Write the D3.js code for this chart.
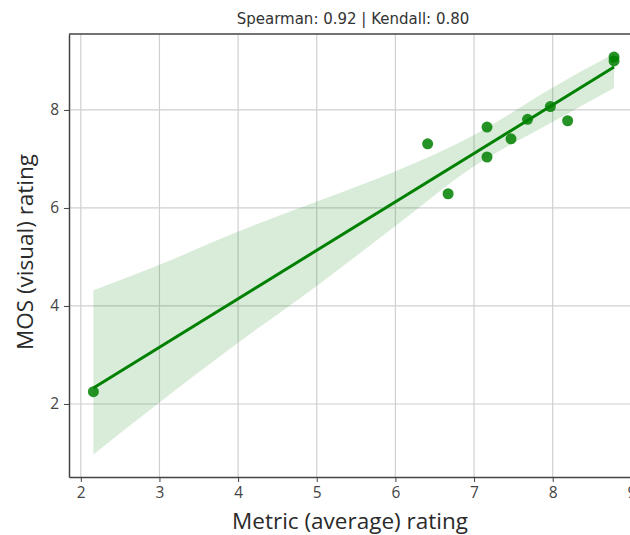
<!DOCTYPE html>
<html>
<head>
<meta charset="utf-8">
<script src="https://cdn.jsdelivr.net/npm/d3@7"></script>
<style>
  body { margin: 0; background: #fff; }
  svg { display: block; }
</style>
</head>
<body>
<svg width="630" height="535"></svg>
<script>
// scatter points: metric (average) rating vs MOS (visual) rating
var metricX = [2.16, 6.41, 6.67, 7.165, 7.165, 7.47, 7.68, 7.97, 8.19, 8.78, 8.78];
var mosY    = [2.25, 7.31, 6.29, 7.65, 7.04, 7.41, 7.81, 8.07, 7.78, 9.08, 9.00];

// confidence band
var bandX    = [2.16, 3.0, 4.0, 5.0, 6.0, 7.0, 7.97, 8.78];
var bandLow  = [0.97, 2.03, 3.25, 4.41, 5.63, 6.85, 7.73, 8.45];
var bandHigh = [4.32, 4.84, 5.52, 6.13, 6.75, 7.49, 8.43, 9.15];

var xTicks = [2, 3, 4, 5, 6, 7, 8, 9];
var yTicks = [2, 4, 6, 8];

var svg = d3.select("svg"),
    plotLeft = 69, plotRight = 640, plotTop = 34, plotBottom = 477;

var x = d3.scaleLinear().domain([1.85, 9.11]).range([plotLeft, plotRight]);
var y = d3.scaleLinear().domain([0.51, 9.55]).range([plotBottom, plotTop]);

// grid
svg.append("g").selectAll("line")
    .data(xTicks).enter().append("line")
    .attr("x1", d => x(d)).attr("x2", d => x(d))
    .attr("y1", plotTop).attr("y2", plotBottom)
    .style("stroke", "#d0d0d0").style("stroke-width", 1.2);
svg.append("g").selectAll("line")
    .data(yTicks).enter().append("line")
    .attr("x1", plotLeft).attr("x2", plotRight)
    .attr("y1", d => y(d)).attr("y2", d => y(d))
    .style("stroke", "#d0d0d0").style("stroke-width", 1.2);

// band
var bandData = bandX.map((d, i) => [d, bandLow[i], bandHigh[i]]);
svg.append("path")
    .datum(bandData)
    .attr("d", d3.area()
        .x(d => x(d[0]))
        .y0(d => y(d[1]))
        .y1(d => y(d[2]))
        .curve(d3.curveMonotoneX))
    .style("fill", "#008000")
    .style("fill-opacity", 0.15);

// least squares fit line
var mx = d3.mean(metricX), my = d3.mean(mosY);
var sxy = d3.sum(metricX, (d, i) => (d - mx) * (mosY[i] - my));
var sxx = d3.sum(metricX, d => (d - mx) * (d - mx));
var slope = sxy / sxx, icpt = my - slope * mx;
var xr = d3.extent(metricX);
svg.append("path")
    .datum(xr.map(d => [d, icpt + slope * d]))
    .attr("d", d3.line().x(d => x(d[0])).y(d => y(d[1])))
    .style("stroke", "#008000")
    .style("stroke-width", 3)
    .style("fill", "none");

// points
svg.append("g").selectAll("circle")
    .data(metricX).enter().append("circle")
    .attr("cx", d => x(d))
    .attr("cy", (d, i) => y(mosY[i]))
    .attr("r", 5.5)
    .style("fill", "#008000")
    .style("fill-opacity", 0.85);

// axes
var xAxis = svg.append("g")
    .attr("transform", "translate(0," + plotBottom + ")")
    .call(d3.axisBottom(x).tickValues(xTicks).tickSize(5).tickPadding(5).tickSizeOuter(0));
var yAxis = svg.append("g")
    .attr("transform", "translate(" + plotLeft + ",0)")
    .call(d3.axisLeft(y).tickValues(yTicks).tickSize(5).tickPadding(5).tickSizeOuter(0));

[xAxis, yAxis].forEach(function(a) {
    a.select(".domain").style("stroke", "#444").style("stroke-width", 1.5);
    a.selectAll(".tick line").style("stroke", "#444");
    a.selectAll(".tick text")
        .style("font-family", "'Open Sans', sans-serif")
        .style("font-size", "15.5px")
        .style("fill", "#444");
});

// top frame line
svg.append("line")
    .attr("x1", plotLeft).attr("x2", plotRight)
    .attr("y1", plotTop).attr("y2", plotTop)
    .style("stroke", "#444").style("stroke-width", 1.5);

// title and labels
svg.append("text")
    .attr("x", 353).attr("y", 24)
    .attr("text-anchor", "middle")
    .style("font-family", "'DejaVu Sans', sans-serif")
    .style("font-size", "15px")
    .style("fill", "#333")
    .text("Spearman: 0.92 | Kendall: 0.80");

svg.append("text")
    .attr("x", 350).attr("y", 529)
    .attr("text-anchor", "middle")
    .style("font-family", "'Open Sans', sans-serif")
    .style("font-size", "22.5px")
    .style("fill", "#2a2a2a")
    .text("Metric (average) rating");

svg.append("text")
    .attr("transform", "translate(33,252) rotate(-90)")
    .attr("text-anchor", "middle")
    .style("font-family", "'Open Sans', sans-serif")
    .style("font-size", "22.5px")
    .style("fill", "#2a2a2a")
    .text("MOS (visual) rating");
</script>
</body>
</html>
